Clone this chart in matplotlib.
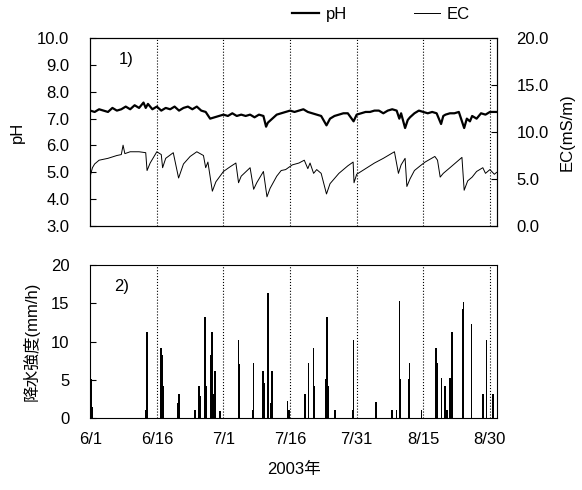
import matplotlib
matplotlib.use("Agg")
import matplotlib.pyplot as plt
from matplotlib.lines import Line2D
from matplotlib.ticker import FormatStrFormatter

plt.rcParams['font.family'] = ['Liberation Sans', 'Noto Sans CJK JP']

# days counted from 2003-06-01
tick_days = [0, 15, 30, 45, 60, 75, 90]
tick_labels = ["6/1", "6/16", "7/1", "7/16", "7/31", "8/15", "8/30"]

ph_day = [0, 1, 2, 3, 4, 5, 6, 7, 8, 9, 10, 11, 12, 12.5, 13, 14, 15, 16, 17, 18,
          19, 20, 21, 22, 23, 24, 25, 26, 27, 28, 29, 30, 31, 32, 33, 34, 35, 36,
          37, 38, 39, 39.6, 40, 41, 42, 43, 44, 45, 46, 47, 48, 49, 50, 51, 52,
          53.2, 54, 55, 56, 57, 58, 59.3, 60, 61, 62, 63, 64, 65, 66, 67, 68, 69,
          69.6, 70, 70.9, 71.5, 72, 73, 74, 75, 76, 77, 78, 79, 79.5, 80, 81, 82,
          83, 84.2, 84.8, 85.5, 86, 87, 88, 89, 90, 91.5]
ph_val = [7.3, 7.25, 7.35, 7.3, 7.25, 7.4, 7.3, 7.35, 7.45, 7.35, 7.5, 7.4, 7.6,
          7.4, 7.55, 7.35, 7.45, 7.3, 7.4, 7.35, 7.45, 7.3, 7.4, 7.45, 7.35, 7.45,
          7.3, 7.25, 7.0, 7.05, 7.1, 7.15, 7.1, 7.2, 7.1, 7.15, 7.1, 7.15, 7.05,
          7.15, 7.1, 6.7, 6.85, 7.0, 7.15, 7.2, 7.25, 7.3, 7.25, 7.3, 7.35, 7.25,
          7.2, 7.15, 7.1, 6.75, 7.0, 7.1, 7.15, 7.2, 7.2, 6.9, 7.15, 7.2, 7.25,
          7.25, 7.3, 7.3, 7.2, 7.3, 7.35, 7.3, 7.0, 7.2, 6.65, 6.95, 7.05, 7.2,
          7.3, 7.25, 7.2, 7.25, 7.2, 6.8, 7.1, 7.15, 7.2, 7.2, 7.25, 6.65, 7.0,
          6.9, 7.1, 7.0, 7.2, 7.15, 7.25, 7.25]

ec_day = [0, 0.5, 1, 2, 4, 6, 7, 7.4, 7.8, 9, 11, 12.5, 12.8, 13.5, 15, 16.0, 16.3,
          17, 18.7, 19.9, 21, 22.5, 24, 25.5, 26, 26.5, 27.5, 28.3, 30, 31.5, 32.8,
          33.4, 34, 36, 36.8, 37.5, 39, 39.8, 40.5, 42, 43, 44, 45.5, 47, 48.2, 49,
          49.5, 50.3, 51, 52, 53.2, 54, 56, 58, 59.2, 59.4, 60, 62, 64, 66, 68.5,
          69.4, 70, 70.9, 71.3, 72, 73, 74.3, 75.4, 77.6, 78.2, 78.8, 79.5, 81,
          83.7, 84.2, 85, 86, 87, 88.4, 89, 90, 91, 91.5]
ec_val = [5.3, 6.2, 6.6, 7.0, 7.2, 7.5, 7.6, 8.6, 7.7, 7.9, 7.9, 7.8, 5.9, 6.7,
          7.9, 7.6, 6.2, 7.2, 7.8, 5.1, 6.6, 7.4, 7.9, 7.5, 6.2, 6.8, 3.7, 4.7,
          5.8, 6.3, 6.7, 4.6, 5.3, 6.2, 3.9, 4.6, 5.8, 3.1, 4.0, 5.3, 5.9, 6.0,
          6.5, 6.7, 7.0, 6.1, 6.7, 5.6, 6.0, 5.6, 3.4, 4.5, 5.6, 6.4, 6.8, 4.6,
          5.5, 6.1, 6.7, 7.2, 7.9, 5.6, 6.5, 7.2, 4.2, 5.0, 5.9, 6.4, 6.8, 7.4,
          7.0, 5.2, 5.6, 6.2, 7.3, 3.8, 4.8, 5.2, 5.8, 6.2, 5.6, 6.0, 5.5, 5.7]

rain_day = [0.3, 0.5, 12.5, 12.65, 12.8, 16.0, 16.2, 16.4, 19.8, 19.95, 23.6,
            24.5, 24.7, 25.9, 26.1, 27.2, 27.4, 27.9, 28.1, 29.25, 33.4, 33.55,
            36.6, 36.75, 38.9, 39.1, 40.0, 40.7, 40.9, 44.4, 44.7, 48.4, 49.2,
            50.3, 50.5, 53.1, 53.3, 53.5, 53.7, 55.1, 59.1, 59.25, 64.4, 67.9,
            69.0, 69.6, 69.75, 71.7, 71.9, 74.6, 77.8, 77.95, 78.1, 79.1, 79.9,
            80.3, 81.0, 81.5, 83.9, 84.05, 85.9, 88.4, 88.55, 89.25, 90.75]
rain_val = [5.1, 1.5, 1.0, 8.2, 11.3, 9.1, 8.2, 4.2, 2.0, 3.1, 1.1, 4.2, 2.9,
            13.2, 4.2, 8.2, 11.3, 3.1, 6.2, 0.9, 10.2, 7.1, 1.1, 7.2, 6.2, 4.6,
            16.3, 2.0, 6.2, 2.2, 1.1, 3.1, 7.2, 9.1, 4.2, 5.1, 13.2, 4.2, 1.1,
            1.1, 1.1, 10.2, 2.1, 1.1, 1.1, 15.3, 5.1, 5.1, 7.2, 1.1, 9.1, 2.0,
            7.2, 5.2, 4.2, 1.1, 5.2, 11.3, 14.3, 15.2, 12.3, 3.1, 1.1, 10.2, 3.1]

fig = plt.figure(figsize=(5.82, 4.90), dpi=100)
ax1 = fig.add_axes([0.155, 0.539, 0.699, 0.383])
ax2 = ax1.twinx()
ax3 = fig.add_axes([0.155, 0.147, 0.699, 0.312])

fs = 12

# panel 1: pH and EC
ax1.plot(ph_day, ph_val, color='black', lw=1.6)
ax2.plot(ec_day, ec_val, color='black', lw=0.7)
ax1.set_xlim(0, 91.6)
ax1.set_ylim(3, 10)
ax2.set_ylim(0, 20)
ax1.set_yticks(range(3, 11))
ax2.set_yticks([0, 5, 10, 15, 20])
ax1.yaxis.set_major_formatter(FormatStrFormatter('%.1f'))
ax2.yaxis.set_major_formatter(FormatStrFormatter('%.1f'))
ax1.set_xticks(tick_days)
ax1.set_xticklabels([])
ax1.tick_params(axis='x', length=0)
ax1.tick_params(axis='y', direction='in', length=4, labelsize=fs, pad=15)
ax2.tick_params(axis='y', direction='in', length=4, labelsize=fs, pad=14)
for d in tick_days[1:]:
    ax1.axvline(d, color='black', lw=0.8, ls=':')
ax1.set_ylabel('pH', fontsize=fs, labelpad=9)
ax2.set_ylabel('EC(mS/m)', fontsize=fs, labelpad=8)
ax1.text(0.07, 0.86, '1)', transform=ax1.transAxes, fontsize=fs)

# panel 2: rainfall intensity
ax3.bar(rain_day, rain_val, width=0.35, color='black')
ax3.set_xlim(0, 91.6)
ax3.set_ylim(0, 20)
ax3.set_yticks([0, 5, 10, 15, 20])
ax3.set_xticks(tick_days)
ax3.set_xticklabels(tick_labels)
ax3.tick_params(axis='x', length=0, labelsize=fs, pad=10)
ax3.tick_params(axis='y', direction='in', length=4, labelsize=fs, pad=15)
for d in tick_days[1:]:
    ax3.axvline(d, color='black', lw=0.8, ls=':')
ax3.set_ylabel('降水強度(mm/h)', fontsize=fs, labelpad=8)
ax3.set_xlabel('2003年', fontsize=fs, labelpad=11)
ax3.text(0.06, 0.83, '2)', transform=ax3.transAxes, fontsize=fs)

handles = [Line2D([0], [0], color='black', lw=1.6),
           Line2D([0], [0], color='black', lw=0.7)]
fig.legend(handles, ['pH', 'EC'], loc='center', bbox_to_anchor=(0.655, 0.971),
           ncol=2, frameon=False, fontsize=fs, handlelength=1.6,
           handletextpad=0.4, columnspacing=4.0)

fig.savefig('out.png', dpi=100)
